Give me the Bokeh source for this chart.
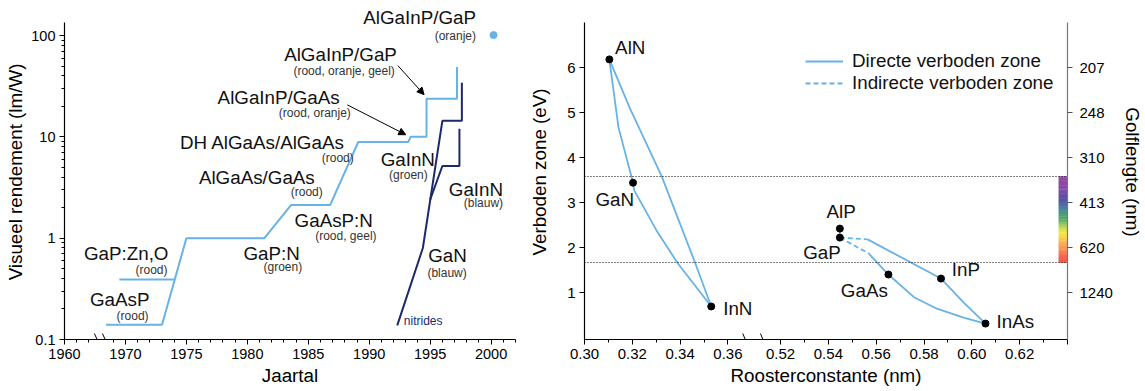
import numpy as np
from bokeh.plotting import figure
from bokeh.models import (FixedTicker, CustomJSTickFormatter, LinearAxis, Range1d,
                          Label, Arrow, NormalHead, Span, Legend, LegendItem)
from bokeh.layouts import row
from bokeh.embed import file_html
from bokeh.resources import INLINE

FONT = "Liberation Sans"
LIGHT = "#67B2E6"
NAVY = "#1B2A6B"
BIG = "18.8px"
SMALL = "12px"

# ---------------- left panel data: luminous efficacy (lm/W) vs year ----------------
aigainp_years = [1968.4, 1973.0, 1975.0, 1981.4, 1983.6, 1986.8, 1989.1, 1993.2, 1993.4,
                 1994.7, 1994.7, 1997.2, 1997.2]
aigainp_vals = [0.14, 0.14, 1.0, 1.0, 2.13, 2.13, 8.9, 8.9, 10.0, 10.0, 23.8, 23.8, 49.0]
gapzno_years = [1969.5, 1974.0]
gapzno_vals = [0.39, 0.39]
nitride1_years = [1992.3, 1994.4, 1996.0, 1997.6, 1997.6]
nitride1_vals = [0.138, 0.80, 14.4, 14.4, 34.3]
nitride2_years = [1995.0, 1996.0, 1997.4, 1997.4]
nitride2_vals = [2.4, 5.16, 5.16, 12.0]
dot_year = [2000.2]
dot_val = [101.0]

x_major = [1965, 1970, 1975, 1980, 1985, 1990, 1995, 2000]
x_major_labels = ["1960", "1970", "1975", "1980", "1985", "1990", "1995", "2000"]
y_major = [0.1, 1, 10, 100]
y_major_labels = ["0.1", "1", "10", "100"]
y_axis_top = 134.5

# label: (text, x, y, size, align, color)
left_labels = [
    ("AlGaInP/GaP", 1998.76, 150.0, BIG, "right", "#111111"),
    ("(oranje)", 1998.76, 100.0, SMALL, "right", "#333333"),
    ("AlGaInP/GaP", 1992.27, 64.9, BIG, "right", "#111111"),
    ("(rood, oranje, geel)", 1992.1, 45.0, SMALL, "right", "#333333"),
    ("AlGaInP/GaAs", 1987.58, 24.3, BIG, "right", "#111111"),
    ("(rood, oranje)", 1988.49, 17.3, SMALL, "right", "#333333"),
    ("DH AlGaAs/AlGaAs", 1988.0, 8.72, BIG, "right", "#111111"),
    ("(rood)", 1988.73, 6.2, SMALL, "right", "#333333"),
    ("AlGaAs/GaAs", 1985.53, 3.93, BIG, "right", "#111111"),
    ("(rood)", 1986.19, 2.85, SMALL, "right", "#333333"),
    ("GaInN", 1995.39, 5.92, BIG, "right", "#111111"),
    ("(groen)", 1994.8, 4.2, SMALL, "right", "#333333"),
    ("GaInN", 2000.98, 2.99, BIG, "right", "#111111"),
    ("(blauw)", 2000.98, 2.22, SMALL, "right", "#333333"),
    ("GaAsP:N", 1990.3, 1.51, BIG, "right", "#111111"),
    ("(rood, geel)", 1990.6, 1.05, SMALL, "right", "#333333"),
    ("GaP:N", 1984.3, 0.71, BIG, "right", "#111111"),
    ("(groen)", 1984.5, 0.516, SMALL, "right", "#333333"),
    ("GaN", 1998.0, 0.68, BIG, "right", "#111111"),
    ("(blauw)", 1998.0, 0.45, SMALL, "right", "#333333"),
    ("GaP:Zn,O", 1973.53, 0.71, BIG, "right", "#111111"),
    ("(rood)", 1973.45, 0.482, SMALL, "right", "#333333"),
    ("GaAsP", 1971.97, 0.249, BIG, "right", "#111111"),
    ("(rood)", 1971.9, 0.169, SMALL, "right", "#333333"),
    ("nitrides", 1992.84, 0.154, SMALL, "left", NAVY),
]
left_arrows = [  # (x_start, y_start, x_end, y_end)
    (1988.2, 20.7, 1993.0, 10.5),
    (1992.35, 50.5, 1994.5, 26.1),
]

# ---------------- right panel data: band gap vs lattice constant ----------------
compounds = ["AlN", "GaN", "InN", "AlP", "GaP", "GaAs", "InP", "InAs"]
lattice = [0.3104, 0.3203, 0.3530, 0.5448, 0.5448, 0.5651, 0.5871, 0.6057]
bandgap = [6.18, 3.44, 0.69, 2.42, 2.22, 1.40, 1.31, 0.31]

alinn_a = [0.3104, 0.3190, 0.3323, 0.3464, 0.3530]
alinn_e = [6.18, 5.09, 3.58, 1.64, 0.69]
algan_a = [0.3104, 0.3142, 0.3197, 0.3203]
algan_e = [6.18, 4.67, 3.56, 3.44]
gainn_a = [0.3203, 0.3208, 0.3301, 0.3390, 0.3530]
gainn_e = [3.44, 3.27, 2.38, 1.65, 0.69]
algap_a = [0.5448, 0.5448]
algap_e = [2.42, 2.22]
gainp_ind_a = [0.5448, 0.5564]
gainp_ind_e = [2.22, 2.18]
gainp_dir_a = [0.5564, 0.5871]
gainp_dir_e = [2.18, 1.31]
gaasp_ind_a = [0.5448, 0.5568]
gaasp_ind_e = [2.22, 1.87]
gaasp_dir_a = [0.5568, 0.5651]
gaasp_dir_e = [1.87, 1.40]
ingaas_a = [0.5651, 0.5758, 0.5854, 0.5965, 0.6057]
ingaas_e = [1.40, 0.896, 0.64, 0.44, 0.31]
inasp_a = [0.5871, 0.5965, 0.6057]
inasp_e = [1.31, 0.78, 0.31]

rx_major = [0.30, 0.32, 0.34, 0.36, 0.52, 0.54, 0.56, 0.58, 0.60, 0.62, 0.64]
rx_minor = [0.31, 0.33, 0.35, 0.53, 0.55, 0.57, 0.59, 0.61, 0.63]
ry_major = [1, 2, 3, 4, 5, 6]
wavelength_labels = ["1240", "620", "413", "310", "248", "207"]
ev_axis_bottom = -0.044
ev_axis_top = 7.0
visible_top_ev = 3.578
visible_bottom_ev = 1.667

# (text, lattice, eV, align)
right_labels = [
    ("AlN", 0.3128, 6.44, "left"),
    ("GaN", 0.3207, 3.07, "right"),
    ("InN", 0.3580, 0.644, "left"),
    ("AlP", 0.5453, 2.80, "center"),
    ("GaP", 0.5452, 1.89, "right"),
    ("GaAs", 0.5452, 1.04, "left"),
    ("InP", 0.5916, 1.51, "left"),
    ("InAs", 0.6103, 0.356, "left"),
]

spectrum_ev = [3.60, 3.38, 3.04, 2.89, 2.76, 2.60, 2.44, 2.33, 2.16, 1.98, 1.76, 1.64]
spectrum_col = ["#7B1F8F", "#6E1E92", "#2B2A8C", "#1E5A92", "#1C7F5A", "#3DA040",
                "#B8D030", "#F2E41E", "#F8B42C", "#F2782C", "#F03A22", "#EE2020"]

SHIFT = 0.138  # broken-axis offset (0.52 drawn right after 0.36)
TOP_PAD_PX = 18  # blank strip above the axes (frames extend into it, axes stop below it)


def tx(a):
    a = np.asarray(a, dtype=float)
    return np.where(a > 0.45, a - SHIFT, a)


def style_axis(ax, size):
    ax.axis_line_color = "black"
    ax.axis_line_width = 1.2
    ax.major_tick_line_color = "black"
    ax.minor_tick_line_color = "black"
    ax.major_tick_out = 5
    ax.major_tick_in = 0
    ax.minor_tick_out = 3
    ax.minor_tick_in = 0
    ax.major_label_text_font = FONT
    ax.major_label_text_font_size = size
    ax.major_label_text_color = "black"
    ax.axis_label_text_font = FONT
    ax.axis_label_text_font_size = BIG
    ax.axis_label_text_font_style = "normal"
    ax.axis_label_text_color = "black"
    ax.major_label_standoff = 4


LOOKUP = ("for (let i = 0; i < majors.length; i++) {"
          " if (Math.abs(tick - majors[i]) < 1e-6 * Math.abs(majors[i])) return labels[i]; }"
          " return '';")

# ================= LEFT =================
left_frame_h = 391 - 4 - 52
decades = np.log10(y_axis_top / 0.1)
px_per_decade = (left_frame_h - TOP_PAD_PX) / decades
top_pad = y_axis_top * 10 ** (TOP_PAD_PX / px_per_decade)
left = figure(width=525, height=391, y_axis_type="log", title=None,
              x_range=Range1d(1965, 2002), y_range=Range1d(0.1, top_pad),
              output_backend="svg", toolbar_location=None,
              min_border_left=64, min_border_right=10, min_border_top=4,
              min_border_bottom=52)
left.grid.visible = False
left.outline_line_color = None
left.background_fill_color = "white"

xminor = [y for y in range(1966, 2003) if y % 5 != 0 and y != 1968]
left.xaxis.ticker = FixedTicker(ticks=x_major, minor_ticks=xminor)
left.xaxis.formatter = CustomJSTickFormatter(
    args=dict(majors=x_major, labels=x_major_labels), code=LOOKUP)
yminor = [m * d for d in (0.1, 1, 10) for m in range(2, 10)]
left.yaxis.ticker = FixedTicker(ticks=y_major, minor_ticks=yminor)
left.yaxis.formatter = CustomJSTickFormatter(
    args=dict(majors=y_major, labels=y_major_labels), code=LOOKUP)
left.yaxis.bounds = (0.1, y_axis_top)
for ax in left.xaxis + left.yaxis:
    style_axis(ax, "14.5px")
left.xaxis.axis_label = "Jaartal"
left.yaxis.axis_label = "Visueel rendement (lm/W)"
left.xaxis.axis_label_standoff = 3
left.yaxis.axis_label_standoff = 2

left.line(aigainp_years, aigainp_vals, line_color=LIGHT, line_width=2)
left.line(gapzno_years, gapzno_vals, line_color=LIGHT, line_width=2)
left.line(nitride1_years, nitride1_vals, line_color=NAVY, line_width=2)
left.line(nitride2_years, nitride2_vals, line_color=NAVY, line_width=2)
left.scatter(dot_year, dot_val, size=7, color=LIGHT)

for (txt, x, y, size, align, col) in left_labels:
    left.add_layout(Label(x=x, y=y, text=txt, text_align=align, text_baseline="middle",
                          text_font=FONT, text_font_size=size, text_color=col))
for (xs, ys, xe, ye) in left_arrows:
    left.add_layout(Arrow(end=NormalHead(size=7, fill_color="black", line_color="black"),
                          x_start=xs, y_start=ys, x_end=xe, y_end=ye,
                          line_color="black", line_width=1))
# axis break marks
for xb in (1967.45, 1968.11):
    left.add_layout(Arrow(end=None, x_start=xb, y_start=0.1147, x_end=xb + 0.45, y_end=0.0872,
                          line_color="black", line_width=1))

# ================= RIGHT =================
ev_per_px = (ev_axis_top - ev_axis_bottom) / (left_frame_h - TOP_PAD_PX)
right = figure(width=620, height=391, title=None,
               x_range=Range1d(0.30, 0.64 - SHIFT),
               y_range=Range1d(ev_axis_bottom, ev_axis_top + TOP_PAD_PX * ev_per_px),
               output_backend="svg", toolbar_location=None,
               min_border_left=59, min_border_right=73, min_border_top=4,
               min_border_bottom=52)
right.grid.visible = False
right.outline_line_color = None

right.xaxis.ticker = FixedTicker(ticks=[float(v) for v in tx(rx_major)],
                                 minor_ticks=[float(v) for v in tx(rx_minor)])
right.xaxis.formatter = CustomJSTickFormatter(
    args=dict(shift=SHIFT),
    code="const v = tick > 0.37 ? tick + shift : tick; return v > 0.635 ? '' : v.toFixed(2);")
right.yaxis.ticker = FixedTicker(ticks=ry_major, minor_ticks=[])
right.yaxis.bounds = (ev_axis_bottom, ev_axis_top)
for ax in right.xaxis + right.yaxis:
    style_axis(ax, "15px")
right.xaxis.axis_label = "Roosterconstante (nm)"
right.yaxis.axis_label = "Verboden zone (eV)"
right.xaxis.axis_label_standoff = 3
right.yaxis.axis_label_standoff = 14

ax2 = LinearAxis(ticker=FixedTicker(ticks=ry_major, minor_ticks=[]),
                 formatter=CustomJSTickFormatter(
                     args=dict(majors=ry_major, labels=wavelength_labels), code=LOOKUP),
                 axis_label="Golflengte (nm)", bounds=(ev_axis_bottom, ev_axis_top))
style_axis(ax2, "15px")
ax2.axis_line_color = "#777777"
ax2.major_tick_line_color = "#555555"
ax2.major_label_standoff = 7
ax2.axis_label_standoff = 6
right.add_layout(ax2, "right")

# colour bar of the visible spectrum
ev = np.linspace(visible_bottom_ev, visible_top_ev, 120)
cols = []
sp_e = np.array(spectrum_ev[::-1])
rgb = np.array([[int(c[i:i + 2], 16) for i in (1, 3, 5)] for c in spectrum_col[::-1]], dtype=float)
for e in ev:
    r, g, b = (np.interp(e, sp_e, rgb[:, k]) for k in range(3))
    cols.append("#%02x%02x%02x" % (int(r), int(g), int(b)))
step = (visible_top_ev - visible_bottom_ev) / (len(ev) - 1)
xr_end = 0.64 - SHIFT
px = (xr_end - 0.30) / 488.0
right.quad(left=xr_end - 9 * px, right=xr_end, bottom=ev - step / 2, top=ev + step / 2,
           fill_color=cols, line_color=None)

for loc in (visible_top_ev, visible_bottom_ev):
    right.add_layout(Span(location=loc, dimension="width", line_color="black",
                          line_width=1, line_dash="1 2"))

dir_r = right.line(tx(alinn_a), alinn_e, line_color=LIGHT, line_width=1.8)
right.line(tx(algan_a), algan_e, line_color=LIGHT, line_width=1.8)
right.line(tx(gainn_a), gainn_e, line_color=LIGHT, line_width=1.8)
right.line(tx(algap_a), algap_e, line_color=LIGHT, line_width=1.8)
ind_r = right.line(tx(gainp_ind_a), gainp_ind_e, line_color=LIGHT, line_width=1.8, line_dash="5 3")
right.line(tx(gainp_dir_a), gainp_dir_e, line_color=LIGHT, line_width=1.8)
right.line(tx(gaasp_ind_a), gaasp_ind_e, line_color=LIGHT, line_width=1.8, line_dash="5 3")
right.line(tx(gaasp_dir_a), gaasp_dir_e, line_color=LIGHT, line_width=1.8)
right.line(tx(ingaas_a), ingaas_e, line_color=LIGHT, line_width=1.8)
right.line(tx(inasp_a), inasp_e, line_color=LIGHT, line_width=1.8)
right.scatter(tx(lattice), bandgap, size=7, color="black")

for (txt, a, e, align) in right_labels:
    right.add_layout(Label(x=float(tx(a)), y=e, text=txt, text_align=align,
                           text_baseline="middle", text_font=FONT, text_font_size=BIG,
                           text_color="#111111"))

for xb in (0.3662, 0.3736):
    right.add_layout(Arrow(end=None, x_start=xb, y_start=0.089, x_end=xb + 0.0019, y_end=-0.156,
                           line_color="black", line_width=1))

legend = Legend(items=[LegendItem(label="Directe verboden zone", renderers=[dir_r]),
                       LegendItem(label="Indirecte verboden zone", renderers=[ind_r])],
                location=(221, 245), glyph_width=38, glyph_height=20, label_height=20,
                label_standoff=9, spacing=0, padding=0, margin=0,
                border_line_alpha=0, background_fill_alpha=0,
                label_text_font=FONT, label_text_font_size=BIG, label_text_color="#111111")
right.add_layout(legend)

layout = row(left, right)
open("out.html", "w").write(file_html(layout, INLINE))
